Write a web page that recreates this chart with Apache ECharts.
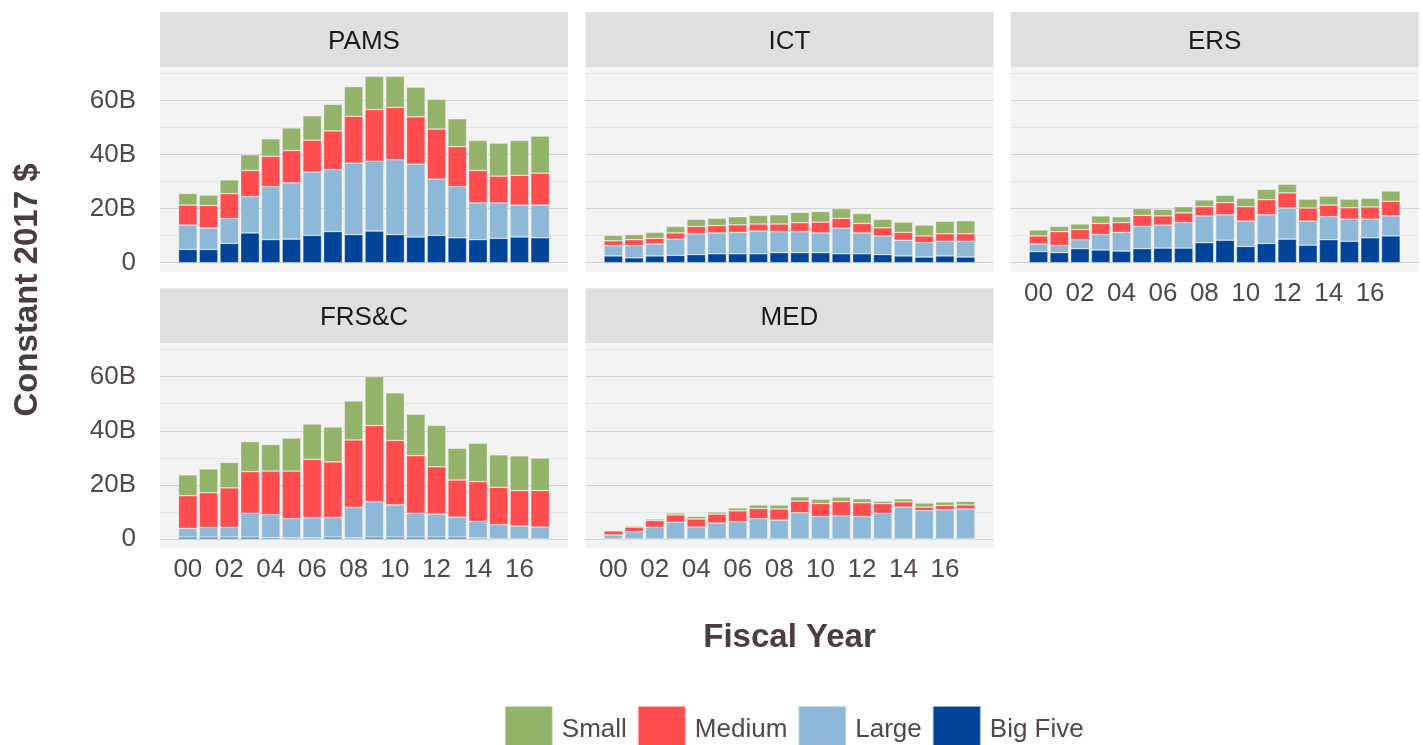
<!DOCTYPE html>
<html lang="en">
<head>
    <meta charset="UTF-8">
    <title>Contract obligations by vendor size</title>
    <script src="https://cdn.jsdelivr.net/npm/echarts@6/dist/echarts.min.js"></script>
    <style>
        html, body { margin: 0; padding: 0; background: #fff; }
    </style>
</head>
<body>
<div id='myChart' style='width: 1423px;height:745px;'></div>
<script type="text/javascript">
    // fiscal years 2000-2017
    var years = ['00', '01', '02', '03', '04', '05', '06', '07', '08', '09', '10', '11', '12', '13', '14', '15', '16', '17'];
    var sizes = ['Big Five', 'Large', 'Medium', 'Small'];
    var legendOrder = ['Small', 'Medium', 'Large', 'Big Five'];
    var yTicks = [0, 20, 40, 60];

    // values in billions of constant 2017 dollars
    var pamsBig = [4.9, 4.9, 7.1, 11.0, 8.5, 8.7, 10.1, 11.5, 10.4, 11.7, 10.4, 9.5, 10.1, 9.2, 8.5, 9.0, 9.5, 9.2];
    var pamsLarge = [9.0, 7.9, 9.2, 13.4, 19.6, 20.8, 23.4, 22.9, 26.4, 25.8, 27.7, 26.9, 20.8, 18.9, 13.6, 13.1, 11.8, 12.1];
    var pamsMedium = [7.4, 8.3, 9.2, 9.7, 11.2, 12.0, 11.8, 14.3, 17.3, 19.1, 19.3, 17.5, 18.5, 14.8, 12.0, 9.9, 11.0, 11.8];
    var pamsSmall = [4.3, 3.9, 5.1, 5.8, 6.5, 8.3, 9.0, 9.8, 11.0, 12.3, 11.5, 11.0, 11.0, 10.3, 11.1, 12.2, 12.9, 13.7];

    var ictBig = [2.5, 1.8, 2.5, 2.7, 3.0, 3.3, 3.3, 3.3, 3.7, 3.7, 3.7, 3.3, 3.3, 3.0, 2.5, 2.1, 2.5, 2.1];
    var ictLarge = [3.8, 4.5, 4.4, 6.0, 7.7, 7.7, 7.9, 8.4, 7.8, 7.8, 7.3, 9.5, 7.7, 6.9, 5.8, 5.3, 5.4, 5.8];
    var ictMedium = [1.8, 2.2, 2.1, 2.3, 2.7, 2.7, 2.8, 2.6, 2.8, 3.3, 4.0, 3.6, 3.5, 3.0, 2.9, 2.5, 2.8, 2.8];
    var ictSmall = [2.0, 1.9, 2.2, 2.4, 2.6, 2.7, 3.0, 3.2, 3.4, 3.8, 3.9, 3.6, 3.7, 3.1, 3.8, 4.0, 4.6, 4.8];

    var ersBig = [4.1, 3.7, 5.2, 4.7, 4.3, 5.2, 5.4, 5.4, 7.4, 8.3, 6.0, 7.1, 8.7, 6.5, 8.5, 7.9, 9.2, 9.9];
    var ersLarge = [2.8, 2.6, 3.3, 5.7, 6.9, 8.2, 8.5, 9.4, 9.9, 9.4, 9.4, 10.6, 11.5, 8.9, 8.5, 8.2, 6.9, 7.4];
    var ersMedium = [3.0, 5.2, 3.8, 4.1, 3.6, 4.1, 3.4, 3.6, 3.4, 4.5, 5.3, 5.6, 5.6, 4.8, 4.3, 4.2, 4.5, 5.4];
    var ersSmall = [2.2, 1.9, 2.0, 2.8, 2.2, 2.5, 2.4, 2.3, 2.5, 2.7, 3.1, 3.8, 3.2, 3.3, 3.3, 3.2, 3.2, 3.8];

    var frscBig = [0.7, 0.7, 0.7, 0.7, 0.5, 0.4, 0.4, 0.7, 0.4, 0.7, 0.7, 0.7, 0.7, 0.7, 0.4, 0, 0, 0];
    var frscLarge = [3.2, 3.6, 3.6, 8.8, 8.5, 7.1, 7.5, 7.2, 11.3, 13.1, 11.9, 8.8, 8.5, 7.4, 6.1, 5.3, 4.8, 4.4];
    var frscMedium = [12.1, 12.8, 14.6, 15.4, 16.1, 17.6, 21.6, 20.6, 24.9, 28.1, 23.8, 21.3, 17.5, 13.7, 14.7, 13.8, 13.1, 13.5];
    var frscSmall = [7.7, 8.8, 9.4, 11.1, 9.8, 12.2, 13.0, 12.9, 14.4, 18.1, 17.6, 15.3, 15.3, 11.7, 14.2, 12.0, 12.8, 12.0];

    var medBig = [0, 0, 0, 0, 0, 0, 0, 0, 0, 0, 0, 0, 0, 0, 0, 0, 0, 0];
    var medLarge = [1.5, 2.7, 4.3, 6.2, 4.4, 5.9, 6.4, 7.5, 7.0, 9.7, 8.3, 8.6, 8.3, 9.5, 11.8, 10.5, 10.8, 11.1];
    var medMedium = [1.5, 1.7, 2.5, 2.7, 3.0, 3.3, 4.0, 3.8, 4.1, 4.3, 4.8, 5.2, 5.1, 3.6, 1.9, 1.3, 1.6, 1.5];
    var medSmall = [0.3, 0.4, 0.6, 0.7, 1.0, 0.8, 1.1, 1.3, 1.5, 1.6, 1.6, 1.7, 1.5, 0.9, 1.2, 1.5, 1.3, 1.3];

    var panels = [
        {name: 'PAMS', row: 0, col: 0, showX: false, data: [pamsBig, pamsLarge, pamsMedium, pamsSmall]},
        {name: 'ICT', row: 0, col: 1, showX: false, data: [ictBig, ictLarge, ictMedium, ictSmall]},
        {name: 'ERS', row: 0, col: 2, showX: true, data: [ersBig, ersLarge, ersMedium, ersSmall]},
        {name: 'FRS&C', row: 1, col: 0, showX: true, data: [frscBig, frscLarge, frscMedium, frscSmall]},
        {name: 'MED', row: 1, col: 1, showX: true, data: [medBig, medLarge, medMedium, medSmall]}
    ];

    var colors = {'Big Five': '#00449a', 'Large': '#8db8d8', 'Medium': '#ff4d4f', 'Small': '#93b36a'};
    var tickColor = '#52474b';
    var titleColor = '#4b3c41';
    var font = '"Liberation Sans", Arial, sans-serif';

    // layout of the facets
    var colLeft = [160, 585.5, 1010.7];
    var rowTop = [67, 343.3];
    var panelW = 408;
    var panelH = 204.7;
    var stripH = 55;
    var topPad = 6.3;      // panel top -> 70B line
    var valH = 189.4;      // 70B line -> 0 line
    var inset = 17.5;      // x expansion of the discrete scale

    function buildOption() {
        var grids = [], xAxes = [], yAxes = [], series = [], graphics = [];

        for (var p = 0; p < panels.length; p++) {
            var pn = panels[p];
            var pLeft = colLeft[pn.col];
            var pTop = rowTop[pn.row];

            graphics.push({
                type: 'rect', z: -10, silent: true,
                shape: {x: pLeft, y: pTop - stripH, width: panelW, height: stripH},
                style: {fill: '#dfdfdf'}
            });
            graphics.push({
                type: 'rect', z: -10, silent: true,
                shape: {x: pLeft, y: pTop, width: panelW, height: panelH},
                style: {fill: '#f3f3f3'}
            });
            graphics.push({
                type: 'text', z: 5, silent: true,
                x: pLeft + panelW / 2, y: pTop - stripH / 2 + 2,
                style: {text: pn.name, fill: '#1a1a1a', font: '26px ' + font, textAlign: 'center', textVerticalAlign: 'middle'}
            });

            // background grid: gridlines + y labels
            grids.push({left: pLeft, top: pTop + topPad, width: panelW, height: valH, containLabel: false});
            xAxes.push({gridIndex: 2 * p, type: 'value', show: false, min: 0, max: 1});
            yAxes.push({
                gridIndex: 2 * p, type: 'value', min: 0, max: 70, interval: 10,
                axisLine: {show: false}, axisTick: {show: false},
                axisLabel: {
                    show: pn.col === 0, margin: 24, color: tickColor, fontSize: 26, fontFamily: font,
                    padding: [4, 0, 0, 0],
                    formatter: function (v) {
                        if (yTicks.indexOf(v) < 0) return '';
                        return v === 0 ? '0' : v + 'B';
                    }
                },
                splitLine: {show: true, lineStyle: {color: ['#d2d2d2', '#e6e6e6'], width: 1}}
            });

            // data grid: bars
            grids.push({left: pLeft + inset, top: pTop + topPad, width: panelW - 2 * inset, height: valH, containLabel: false});
            xAxes.push({
                gridIndex: 2 * p + 1, type: 'category', data: years,
                axisLine: {show: false}, axisTick: {show: false},
                axisLabel: {show: pn.showX, interval: 1, margin: 18, color: tickColor, fontSize: 26, fontFamily: font}
            });
            yAxes.push({gridIndex: 2 * p + 1, type: 'value', min: 0, max: 70, show: false, splitLine: {show: false}});

            for (var s = 0; s < sizes.length; s++) {
                series.push({
                    name: sizes[s], type: 'bar', stack: 'panel' + p,
                    xAxisIndex: 2 * p + 1, yAxisIndex: 2 * p + 1,
                    barCategoryGap: '10%',
                    data: pn.data[s],
                    itemStyle: {color: colors[sizes[s]], borderColor: 'rgba(255,255,255,0.55)', borderWidth: 0.6}
                });
            }
        }

        // axis titles
        graphics.push({
            type: 'text', silent: true, x: 28, y: 290, rotation: Math.PI / 2,
            style: {text: 'Constant 2017 $', fill: titleColor, font: 'bold 33px ' + font, textAlign: 'center', textVerticalAlign: 'middle'}
        });
        graphics.push({
            type: 'text', silent: true, x: 789.5, y: 638,
            style: {text: 'Fiscal Year', fill: titleColor, font: 'bold 33px ' + font, textAlign: 'center', textVerticalAlign: 'middle'}
        });

        return {
            animation: false,
            backgroundColor: '#ffffff',
            grid: grids,
            xAxis: xAxes,
            yAxis: yAxes,
            series: series,
            graphic: graphics,
            legend: {
                data: legendOrder, left: 503.8, top: 705, padding: 0,
                icon: 'rect', itemWidth: 48, itemHeight: 48, itemGap: 10,
                selectedMode: false,
                textStyle: {color: tickColor, fontSize: 26, fontFamily: font, padding: [0, 0, 0, 4]}
            }
        };
    }

    var myChart = echarts.init(document.getElementById('myChart'));
    myChart.setOption(buildOption());
    window.onresize = function () {
        myChart.resize();
    };
</script>
</body>
</html>
